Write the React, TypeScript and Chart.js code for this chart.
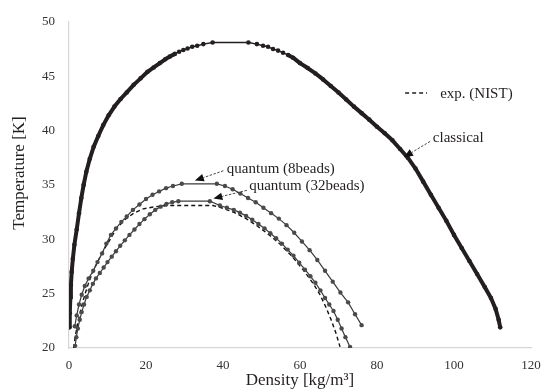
import React, { useEffect, useRef } from "react";
import { Chart, registerables } from "chart.js";

Chart.register(...registerables);

// ---- data (density kg/m3, temperature K) ----
const classical: [number, number][] = [
  [0.1, 21.9], [0.2, 23.2], [0.35, 24.6], [0.5, 25.8], [0.7, 27.0], [1.0, 28.2], [1.4, 29.5],
  [2.0, 30.9], [2.6, 32.4], [3.2, 33.8], [3.8, 35.0], [4.5, 36.2], [5.4, 37.4], [6.4, 38.5],
  [7.6, 39.5], [8.9, 40.5], [10.3, 41.4], [11.8, 42.2], [13.4, 42.9], [15.0, 43.5], [16.8, 44.2],
  [18.6, 44.8], [20.4, 45.4], [22.0, 45.8], [23.6, 46.2], [25.0, 46.55], [26.2, 46.8],
  [27.5, 47.05], [28.6, 47.25], [29.7, 47.4], [30.8, 47.55], [32.0, 47.7], [33.3, 47.8],
  [34.9, 47.95], [37.3, 48.1], [46.6, 48.1], [48.8, 47.95], [50.4, 47.8], [51.7, 47.7],
  [53.0, 47.5], [54.3, 47.35], [55.6, 47.15], [56.9, 46.95], [58.2, 46.7], [60.0, 46.2],
  [62.0, 45.75], [64.0, 45.25], [66.0, 44.7], [68.0, 44.1], [70.0, 43.5], [72.0, 42.85],
  [74.0, 42.2], [76.0, 41.6], [78.0, 41.0], [80.0, 40.35], [82.0, 39.75], [84.0, 39.1],
  [86.0, 38.3], [88.0, 37.5], [90.0, 36.5], [92.0, 35.3], [94.0, 34.1], [96.0, 32.9],
  [98.0, 31.7], [100.0, 30.4], [102.0, 29.2], [104.0, 28.0], [106.0, 26.8], [108.0, 25.6],
  [109.6, 24.6], [110.8, 23.6], [111.6, 22.6], [112.0, 21.9],
];

const quantum8: [number, number][] = [
  [1.5, 22.0], [2.0, 23.0], [2.6, 24.0], [3.3, 24.9], [4.1, 25.7], [5.1, 26.4], [6.3, 27.1],
  [7.4, 27.9], [8.6, 28.7], [9.7, 29.6], [10.9, 30.4], [12.2, 31.0], [13.6, 31.6], [15.0, 32.1],
  [16.6, 32.7], [18.3, 33.2], [20.0, 33.7], [21.7, 34.1], [23.4, 34.4], [25.2, 34.7],
  [27.0, 34.9], [29.3, 35.1], [38.4, 35.1], [40.5, 34.9], [42.5, 34.6], [44.5, 34.2],
  [46.5, 33.8], [48.5, 33.4], [50.5, 32.9], [52.5, 32.4], [54.5, 31.9], [56.5, 31.3],
  [58.5, 30.6], [60.5, 29.8], [62.5, 29.0], [64.5, 28.1], [66.5, 27.1], [68.5, 26.1],
  [70.5, 25.1], [72.5, 24.2], [74.3, 23.1], [76.0, 22.1],
];

const quantum32: [number, number][] = [
  [1.6, 20.2], [1.9, 21.0], [2.3, 21.8], [2.8, 22.6], [3.3, 23.3], [3.9, 24.0], [4.6, 24.7],
  [5.4, 25.3], [6.2, 25.9], [7.0, 26.4], [8.0, 26.9], [9.0, 27.4], [10.0, 27.9], [11.1, 28.4],
  [12.2, 28.9], [13.3, 29.4], [14.5, 29.9], [15.7, 30.4], [17.0, 30.9], [18.3, 31.4],
  [19.6, 31.85], [21.0, 32.3], [22.4, 32.7], [23.8, 33.0], [25.3, 33.25], [26.8, 33.4],
  [28.4, 33.5], [36.6, 33.5], [39.2, 33.1], [41.0, 32.9], [42.8, 32.7], [44.4, 32.45],
  [46.0, 32.15], [47.6, 31.8], [49.2, 31.4], [50.8, 31.0], [52.3, 30.55], [53.8, 30.1],
  [55.3, 29.6], [56.8, 29.05], [58.3, 28.5], [59.8, 27.85], [61.3, 27.2], [62.7, 26.6],
  [64.0, 26.0], [65.3, 25.3], [66.5, 24.6], [67.6, 24.0], [68.7, 23.4], [69.8, 22.6],
  [70.8, 21.8], [71.8, 21.0], [73.0, 20.1],
];

const nist: [number, number][] = [
  [1.2, 20.0], [1.6, 21.0], [2.1, 22.0], [2.7, 23.0], [3.4, 24.0], [4.2, 25.0], [5.1, 26.0],
  [6.2, 27.0], [7.5, 28.0], [9.0, 29.0], [10.7, 30.0], [12.4, 31.0], [14.5, 31.8], [16.8, 32.4],
  [19.3, 32.8], [22.5, 33.0], [26.2, 33.1], [37.4, 33.1], [40.0, 32.85], [43.0, 32.45],
  [46.0, 31.9], [49.0, 31.2], [52.0, 30.4], [55.0, 29.5], [58.0, 28.4], [61.0, 27.1],
  [63.5, 25.9], [65.2, 24.9], [66.8, 23.7], [68.2, 22.5], [69.4, 21.3], [70.4, 20.1],
];

const xTicks = [0, 20, 40, 60, 80, 100, 120];
const yTicks = [20, 25, 30, 35, 40, 45, 50];
const xTitle = "Density [kg/m³]";
const yTitle = "Temperature [K]";

// ---- annotation layout (data coordinates) ----
const notes = [
  { text: "exp. (NIST)", x: 96.4, y: 43.35 },
  { text: "classical", x: 94.5, y: 39.3 },
  { text: "quantum (8beads)", x: 41.0, y: 36.5 },
  { text: "quantum (32beads)", x: 46.8, y: 34.85 },
];
const arrows = [
  { from: [93.8, 39.0], to: [87.0, 37.55] },
  { from: [40.1, 36.3], to: [32.7, 35.4] },
  { from: [46.2, 34.5], to: [37.5, 33.75] },
];
const nistSample = { x0: 87.3, x1: 93.0, y: 43.45 };
const yTitlePos = { x: 20, yFromTop: 173 };

const SERIF = '"Liberation Serif", "Times New Roman", serif';
const INK = "#231f20";

const toXY = (arr: [number, number][]) => arr.map(([x, y]) => ({ x, y }));

const annotPlugin = {
  id: "annots",
  afterDatasetsDraw(chart: any) {
    const { ctx } = chart;
    const xs = chart.scales.x;
    const ys = chart.scales.y;
    const px = (v: number) => xs.getPixelForValue(v);
    const py = (v: number) => ys.getPixelForValue(v);
    ctx.save();
    ctx.font = `15px ${SERIF}`;
    ctx.fillStyle = INK;
    ctx.textBaseline = "middle";
    ctx.textAlign = "left";
    for (const n of notes) ctx.fillText(n.text, px(n.x), py(n.y));

    // y axis title
    ctx.save();
    ctx.font = `17px ${SERIF}`;
    ctx.textAlign = "center";
    ctx.translate(yTitlePos.x, yTitlePos.yFromTop);
    ctx.rotate(-Math.PI / 2);
    ctx.fillText(yTitle, 0, 0);
    ctx.restore();

    // legend dash sample
    ctx.strokeStyle = INK;
    ctx.lineWidth = 1.5;
    ctx.setLineDash([4, 3]);
    ctx.beginPath();
    ctx.moveTo(px(nistSample.x0), py(nistSample.y));
    ctx.lineTo(px(nistSample.x1), py(nistSample.y));
    ctx.stroke();

    for (const a of arrows) {
      const x0 = px(a.from[0]), y0 = py(a.from[1]);
      const x1 = px(a.to[0]), y1 = py(a.to[1]);
      const ang = Math.atan2(y1 - y0, x1 - x0);
      const L = 9, W = 3.8;
      const bx = x1 - L * Math.cos(ang), by = y1 - L * Math.sin(ang);
      ctx.setLineDash([2.5, 1.5]);
      ctx.lineWidth = 0.9;
      ctx.strokeStyle = "#333";
      ctx.beginPath();
      ctx.moveTo(x0, y0);
      ctx.lineTo(bx, by);
      ctx.stroke();
      ctx.setLineDash([]);
      ctx.fillStyle = "#111";
      ctx.beginPath();
      ctx.moveTo(x1, y1);
      ctx.lineTo(bx + W * Math.sin(ang), by - W * Math.cos(ang));
      ctx.lineTo(bx - W * Math.sin(ang), by + W * Math.cos(ang));
      ctx.closePath();
      ctx.fill();
    }
    ctx.restore();
  },
};

export default function App() {
  const ref = useRef<HTMLCanvasElement | null>(null);
  useEffect(() => {
    document.body.style.margin = "0";
    const canvas = ref.current!;
    const chart = new Chart(canvas, {
      type: "scatter",
      data: {
        datasets: [
          {
            label: "classical",
            data: toXY(classical),
            showLine: true,
            tension: 0,
            borderColor: INK,
            borderWidth: 4,
            borderJoinStyle: "round",
            segment: {
              borderWidth: (c: any) => (c.p0.parsed.y > 46.8 && c.p1.parsed.y > 46.8 ? 1.4 : 4),
            },
            pointRadius: 2.3,
            pointBorderWidth: 0,
            pointBackgroundColor: INK,
          } as any,
          {
            label: "quantum (8beads)",
            data: toXY(quantum8),
            showLine: true,
            borderColor: "#3a3a3a",
            borderWidth: 1.2,
            pointRadius: 2.2,
            pointBorderWidth: 0,
            pointBackgroundColor: "#4a4a4a",
          },
          {
            label: "quantum (32beads)",
            data: toXY(quantum32),
            showLine: true,
            borderColor: "#3a3a3a",
            borderWidth: 1.2,
            pointRadius: 2.2,
            pointBorderWidth: 0,
            pointBackgroundColor: "#4a4a4a",
          },
          {
            label: "exp. (NIST)",
            data: toXY(nist),
            showLine: true,
            borderColor: "#111",
            borderWidth: 1.4,
            borderDash: [4, 3],
            pointRadius: 0,
          },
        ],
      },
      options: {
        animation: false,
        responsive: false,
        devicePixelRatio: 1,
        layout: { padding: { top: 14, right: 25, left: 0, bottom: 0 } },
        plugins: { legend: { display: false }, tooltip: { enabled: false } },
        scales: {
          x: {
            type: "linear",
            min: 0,
            max: 120,
            afterFit: (s: any) => { s.height = 43; },
            afterBuildTicks: (s: any) => { s.ticks = xTicks.map((v) => ({ value: v })); },
            grid: { display: false, drawTicks: false },
            border: { display: true, color: "#d6d6d6", width: 1.2 },
            ticks: { color: "#333", padding: 10, font: { family: SERIF, size: 13 } },
            title: {
              display: true,
              text: xTitle,
              color: INK,
              font: { family: SERIF, size: 17 },
              padding: { top: 0, bottom: 0 },
            },
          },
          y: {
            type: "linear",
            min: 20,
            max: 50,
            afterFit: (s: any) => { s.width = 69; },
            afterBuildTicks: (s: any) => { s.ticks = yTicks.map((v) => ({ value: v })); },
            grid: { display: false, drawTicks: false },
            border: { display: true, color: "#d6d6d6", width: 1.2 },
            ticks: { color: "#333", padding: 14, font: { family: SERIF, size: 13 } },
            title: { display: false },
          },
        },
      },
      plugins: [annotPlugin],
    });
    return () => chart.destroy();
  }, []);
  return (
    <div style={{ position: "fixed", left: 0, top: 0, width: 556, height: 391, background: "#fff" }}>
      <canvas ref={ref} width={556} height={391} style={{ width: 556, height: 391, display: "block" }} />
    </div>
  );
}
